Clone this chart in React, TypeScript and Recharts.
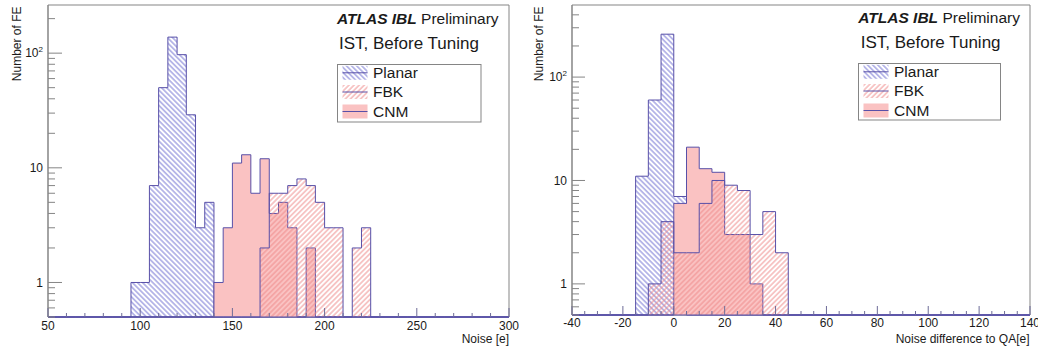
import React from 'react';
import { ComposedChart, Area, XAxis, YAxis, ReferenceArea, Legend } from 'recharts';

// ---------------- data ----------------
const BIN = 5;
const Y_FLOOR = 0.5;
const SERIES_NAMES = ['Planar', 'FBK', 'CNM'];

// Left panel: Noise [e]
const LEFT_X_RANGE = [50, 300];
const LEFT_Y_MAX = 263;
const LEFT_X_MAJOR = [50, 100, 150, 200, 250, 300];
const LEFT_X_MINOR_STEP = 10;
const LEFT_PLANAR_START = 95;
const LEFT_PLANAR = [1, 1, 7, 50, 138, 97, 29, 3, 5];
const LEFT_CNM_START = 140;
const LEFT_CNM = [1, 3, 11, 13, 6, 12, 4, 5, 3, 0, 2];
const LEFT_FBK_START = 165;
const LEFT_FBK = [2, 6, 6, 7, 8, 7, 5, 3, 3, 0, 2, 3];

// Right panel: Noise difference to QA[e]
const RIGHT_X_RANGE = [-40, 140];
const RIGHT_Y_MAX = 498;
const RIGHT_X_MAJOR = [-40, -20, 0, 20, 40, 60, 80, 100, 120, 140];
const RIGHT_X_MINOR_STEP = 5;
const RIGHT_PLANAR_START = -15;
const RIGHT_PLANAR = [11, 60, 260, 7];
const RIGHT_CNM_START = 0;
const RIGHT_CNM = [6, 21, 13, 12, 3, 3, 1];
const RIGHT_FBK_START = -10;
const RIGHT_FBK = [1, 4, 2, 2, 6, 10, 9, 8, 3, 5, 2];

const Y_MAJOR = [1, 10, 100];
const Y_MAJOR_LABELS = ['1', '10', '10^2'];

const TITLE_BOLD = 'ATLAS IBL';
const TITLE_REST = ' Preliminary';
const SUBTITLE = 'IST, Before Tuning';
const Y_TITLE = 'Number of FE';
const LEFT_X_TITLE = 'Noise [e]';
const RIGHT_X_TITLE = 'Noise difference to QA[e]';

// ---------------- style ----------------
const FONT = '"Liberation Sans", Arial, sans-serif';
const OUTLINE = '#5850a8';
const FRAME = '#858585';
const TICK_X = '#6e6c98';
const PLANAR_HATCH = '#6c6cd0';
const FBK_HATCH = '#ee8888';
const CNM_FILL = '#fac2c2';
const TEXT = '#1a1a1a';

function buildTable(range, series) {
  const rows = [];
  for (let x = range[0]; x <= range[1]; x += BIN) {
    const row = { x };
    series.forEach((s) => {
      const idx = Math.round((x - s.start) / BIN);
      const c = idx >= 0 && idx < s.counts.length ? s.counts[idx] : 0;
      row[s.key] = c > 0 ? c : Y_FLOOR;
    });
    rows.push(row);
  }
  return rows;
}

function minorTicks(range, step, majors) {
  const out = [];
  for (let v = range[0]; v <= range[1] + 1e-9; v += step) {
    if (!majors.includes(v)) out.push(v);
  }
  return out;
}

function logTicks(max) {
  const out = [];
  [0.1, 1, 10, 100].forEach((d) => {
    for (let m = 1; m <= 9; m++) {
      const v = Math.round(m * d * 1000) / 1000;
      if (v >= Y_FLOOR && v <= max) out.push(v);
    }
  });
  return out;
}

function XTick(props) {
  const { x, y, payload, majors, labelDy } = props;
  const v = payload.value;
  const isMajor = majors.includes(v);
  return (
    <g>
      <line x1={x} y1={y} x2={x} y2={y - (isMajor ? 9 : 4)} stroke={TICK_X} strokeWidth={1} />
      {isMajor && (
        <text x={x} y={y + labelDy} textAnchor="middle" fontSize={12} fontFamily={FONT} fill={TEXT}>
          {String(v)}
        </text>
      )}
    </g>
  );
}

function YTick(props) {
  const { x, y, payload, majorLen } = props;
  const v = payload.value;
  const mi = Y_MAJOR.indexOf(v);
  const isMajor = mi >= 0;
  let label = null;
  if (isMajor) {
    const lab = Y_MAJOR_LABELS[mi];
    if (lab.includes('^')) {
      const [b, e] = lab.split('^');
      label = (
        <text x={x - 5} y={y} dy="0.35em" textAnchor="end" fontSize={12} fontFamily={FONT} fill={TEXT}>
          <tspan>{b}</tspan>
          <tspan dy={-5} fontSize={8}>{e}</tspan>
        </text>
      );
    } else {
      label = (
        <text x={x - 5} y={y} dy="0.35em" textAnchor="end" fontSize={12} fontFamily={FONT} fill={TEXT}>
          {lab}
        </text>
      );
    }
  }
  return (
    <g>
      <line x1={x} y1={y} x2={x + (isMajor ? majorLen : 7)} y2={y} stroke={FRAME} strokeWidth={1} />
      {label}
    </g>
  );
}

function LegendBox({ pid, w, h }) {
  const sw = { x: 5.5, w: 25, h: 14 };
  const rows = [
    { name: SERIES_NAMES[0], fill: `url(#${pid}-planar)`, top: 1.8, ty: 14 },
    { name: SERIES_NAMES[1], fill: `url(#${pid}-fbk)`, top: 21, ty: 33 },
    { name: SERIES_NAMES[2], fill: CNM_FILL, top: 40.5, ty: 52.8 },
  ];
  return (
    <svg width={w} height={h} style={{ display: 'block', overflow: 'visible' }}>
      <rect x={0.5} y={0.5} width={w - 1} height={h - 1} fill="#fff" stroke={FRAME} strokeWidth={1} />
      {rows.map((r) => (
        <g key={r.name}>
          <rect x={sw.x} y={r.top} width={sw.w} height={sw.h} fill={r.fill} stroke="none" />
          <line x1={sw.x} x2={sw.x + sw.w} y1={r.top + sw.h / 2} y2={r.top + sw.h / 2} stroke={OUTLINE} strokeWidth={1} />
          <text x={36} y={r.ty} fontSize={15.5} fontFamily={FONT} fill={TEXT}>{r.name}</text>
        </g>
      ))}
    </svg>
  );
}

function Panel(props) {
  const { pid, range, yMax, majors, minorStep, data, margin, yMajorLen, labelDy, legendPos } = props;
  const xTicks = [...majors, ...minorTicks(range, minorStep, majors)].sort((a, b) => a - b);
  const yTicks = logTicks(yMax);
  return (
    <ComposedChart width={519} height={350} data={data} margin={margin}>
      <defs>
        <pattern id={`${pid}-planar`} patternUnits="userSpaceOnUse" width={3.6} height={3.6} patternTransform="rotate(-45)">
          <line x1={1.8} y1={0} x2={1.8} y2={3.6} stroke={PLANAR_HATCH} strokeWidth={0.9} />
        </pattern>
        <pattern id={`${pid}-fbk`} patternUnits="userSpaceOnUse" width={3.6} height={3.6} patternTransform="rotate(45)">
          <line x1={1.8} y1={0} x2={1.8} y2={3.6} stroke={FBK_HATCH} strokeWidth={0.9} />
        </pattern>
      </defs>
      <ReferenceArea x1={range[0]} x2={range[1]} y1={Y_FLOOR} y2={yMax} fill="none" stroke={FRAME} strokeWidth={1} ifOverflow="visible" />
      <XAxis
        dataKey="x"
        type="number"
        domain={range}
        ticks={xTicks}
        interval={0}
        height={1}
        tickSize={0}
        tickMargin={0}
        tickLine={false}
        axisLine={{ stroke: OUTLINE }}
        tick={(p) => <XTick {...p} majors={majors} labelDy={labelDy} />}
      />
      <YAxis
        type="number"
        scale="log"
        domain={[Y_FLOOR, yMax]}
        ticks={yTicks}
        interval={0}
        width={1}
        tickSize={0}
        tickMargin={0}
        tickLine={false}
        axisLine={{ stroke: FRAME }}
        tick={(p) => <YTick {...p} majorLen={yMajorLen} />}
      />
      <Area type="stepAfter" dataKey="planar" name={SERIES_NAMES[0]} stroke={OUTLINE} strokeWidth={1} fill={`url(#${pid}-planar)`} fillOpacity={1} baseValue={Y_FLOOR} isAnimationActive={false} dot={false} activeDot={false} />
      <Area type="stepAfter" dataKey="cnm" name={SERIES_NAMES[2]} stroke={OUTLINE} strokeWidth={1} fill={CNM_FILL} fillOpacity={1} baseValue={Y_FLOOR} isAnimationActive={false} dot={false} activeDot={false} />
      <Area type="stepAfter" dataKey="fbk" name={SERIES_NAMES[1]} stroke={OUTLINE} strokeWidth={1} fill={`url(#${pid}-fbk)`} fillOpacity={1} baseValue={Y_FLOOR} isAnimationActive={false} dot={false} activeDot={false} />
      <Legend
        layout="vertical"
        align="center"
        verticalAlign="middle"
        wrapperStyle={{ left: legendPos.left, top: legendPos.top, width: legendPos.w, height: legendPos.h }}
        content={() => <LegendBox pid={pid} w={legendPos.w} h={legendPos.h} />}
      />
    </ComposedChart>
  );
}

const leftData = buildTable(LEFT_X_RANGE, [
  { key: 'planar', start: LEFT_PLANAR_START, counts: LEFT_PLANAR },
  { key: 'cnm', start: LEFT_CNM_START, counts: LEFT_CNM },
  { key: 'fbk', start: LEFT_FBK_START, counts: LEFT_FBK },
]);
const rightData = buildTable(RIGHT_X_RANGE, [
  { key: 'planar', start: RIGHT_PLANAR_START, counts: RIGHT_PLANAR },
  { key: 'cnm', start: RIGHT_CNM_START, counts: RIGHT_CNM },
  { key: 'fbk', start: RIGHT_FBK_START, counts: RIGHT_FBK },
]);

export default function App() {
  return (
    <div style={{ position: 'absolute', left: 0, top: 0, width: 1038, height: 350, background: '#fff', fontFamily: FONT }}>
      <div style={{ position: 'absolute', left: 0, top: 0 }}>
        <Panel
          pid="L"
          range={LEFT_X_RANGE}
          yMax={LEFT_Y_MAX}
          majors={LEFT_X_MAJOR}
          minorStep={LEFT_X_MINOR_STEP}
          data={leftData}
          margin={{ top: 5, right: 10, bottom: 32, left: 47 }}
          yMajorLen={14}
          labelDy={13}
          legendPos={{ left: 336.7, top: 64.3, w: 144.5, h: 58.5 }}
        />
      </div>
      <div style={{ position: 'absolute', left: 519, top: 0 }}>
        <Panel
          pid="R"
          range={RIGHT_X_RANGE}
          yMax={RIGHT_Y_MAX}
          majors={RIGHT_X_MAJOR}
          minorStep={RIGHT_X_MINOR_STEP}
          data={rightData}
          margin={{ top: 5, right: 8, bottom: 34, left: 52 }}
          yMajorLen={13}
          labelDy={12}
          legendPos={{ left: 339.3, top: 63.3, w: 143, h: 57.5 }}
        />
      </div>
      <svg width={1038} height={350} style={{ position: 'absolute', left: 0, top: 0, pointerEvents: 'none' }}>
        <g fontFamily={FONT} fill={TEXT}>
          <text x={337} y={24} fontSize={15.5}>
            <tspan fontWeight="bold" fontStyle="italic">{TITLE_BOLD}</tspan>
            <tspan>{TITLE_REST}</tspan>
          </text>
          <text x={339} y={49.3} fontSize={17}>{SUBTITLE}</text>
          <text x={858.3} y={23.3} fontSize={15.5}>
            <tspan fontWeight="bold" fontStyle="italic">{TITLE_BOLD}</tspan>
            <tspan>{TITLE_REST}</tspan>
          </text>
          <text x={860.7} y={48.3} fontSize={17}>{SUBTITLE}</text>
          <text transform="translate(20.5,6.5) rotate(-90)" textAnchor="end" fontSize={12}>{Y_TITLE}</text>
          <text transform="translate(543,6.5) rotate(-90)" textAnchor="end" fontSize={12}>{Y_TITLE}</text>
          <text x={509} y={343} textAnchor="end" fontSize={12}>{LEFT_X_TITLE}</text>
          <text x={1029.5} y={342.5} textAnchor="end" fontSize={12}>{RIGHT_X_TITLE}</text>
        </g>
      </svg>
    </div>
  );
}
